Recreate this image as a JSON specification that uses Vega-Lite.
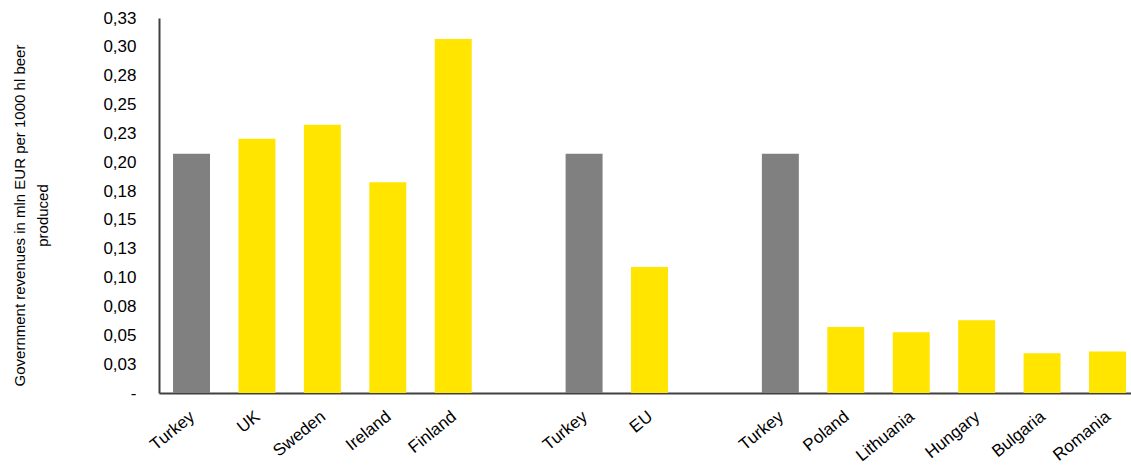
{
  "$schema": "https://vega.github.io/schema/vega-lite/v6.json",
  "width": 972,
  "height": 375,
  "autosize": "none",
  "padding": {"left": 159, "top": 18, "right": 0, "bottom": 72},
  "background": "white",
  "config": {"view": {"stroke": null}, "font": "Liberation Sans"},
  "data": {
    "values": [
      {"key": "Turkey_1", "type": "Turkey", "value": 0.2073},
      {"key": "UK", "type": "Other", "value": 0.2203},
      {"key": "Sweden", "type": "Other", "value": 0.2325},
      {"key": "Ireland", "type": "Other", "value": 0.1827},
      {"key": "Finland", "type": "Other", "value": 0.3069},
      {"key": "Turkey_2", "type": "Turkey", "value": 0.2073},
      {"key": "EU", "type": "Other", "value": 0.1092},
      {"key": "Turkey_3", "type": "Turkey", "value": 0.2073},
      {"key": "Poland", "type": "Other", "value": 0.0571},
      {"key": "Lithuania", "type": "Other", "value": 0.0527},
      {"key": "Hungary", "type": "Other", "value": 0.0631},
      {"key": "Bulgaria", "type": "Other", "value": 0.0345},
      {"key": "Romania", "type": "Other", "value": 0.036}
    ]
  },
  "mark": {"type": "bar"},
  "encoding": {
    "x": {
      "field": "key",
      "type": "nominal",
      "sort": null,
      "scale": {
        "domain": ["Turkey_1", "UK", "Sweden", "Ireland", "Finland", "gap1", "Turkey_2", "EU", "gap2", "Turkey_3", "Poland", "Lithuania", "Hungary", "Bulgaria", "Romania"],
        "paddingInner": 0.435,
        "paddingOuter": 0.1455,
        "align": 0.737
      },
      "axis": {
        "title": null,
        "labelAngle": -39,
        "labelAlign": "right",
        "labelBaseline": "top",
        "labelFont": "Liberation Sans",
        "labelFontSize": 17,
        "labelColor": "#000000",
        "labelPadding": 15,
        "labelOffset": -4,
        "labelExpr": "indexof(datum.value, 'gap') == 0 ? '' : split(datum.value, '_')[0]",
        "ticks": false,
        "domainColor": "#404040",
        "domainWidth": 2,
        "grid": false
      }
    },
    "y": {
      "field": "value",
      "type": "quantitative",
      "scale": {"domain": [0, 0.325], "nice": false},
      "axis": {
        "title": ["Government revenues in mln EUR per 1000 hl beer", "produced"],
        "titleFont": "Liberation Sans",
        "titleFontSize": 15,
        "titleFontWeight": "normal",
        "titleColor": "#000000",
        "titleLineHeight": 23,
        "titleAngle": -90,
        "titleAlign": "center",
        "titleBaseline": "middle",
        "titleX": -139.5,
        "titleY": 197,
        "values": [0, 0.025, 0.05, 0.075, 0.1, 0.125, 0.15, 0.175, 0.2, 0.225, 0.25, 0.275, 0.3, 0.325],
        "labelExpr": "datum.value == 0 ? '-' : replace(format(round(round(datum.value * 1000) / 10) / 100, '.2f'), '.', ',')",
        "labelFont": "Liberation Sans",
        "labelFontSize": 17,
        "labelColor": "#000000",
        "labelPadding": 23,
        "ticks": false,
        "grid": false,
        "domainColor": "#404040",
        "domainWidth": 2
      }
    },
    "color": {
      "field": "type",
      "type": "nominal",
      "scale": {"domain": ["Turkey", "Other"], "range": ["#808080", "#FFE500"]},
      "legend": null
    }
  }
}
